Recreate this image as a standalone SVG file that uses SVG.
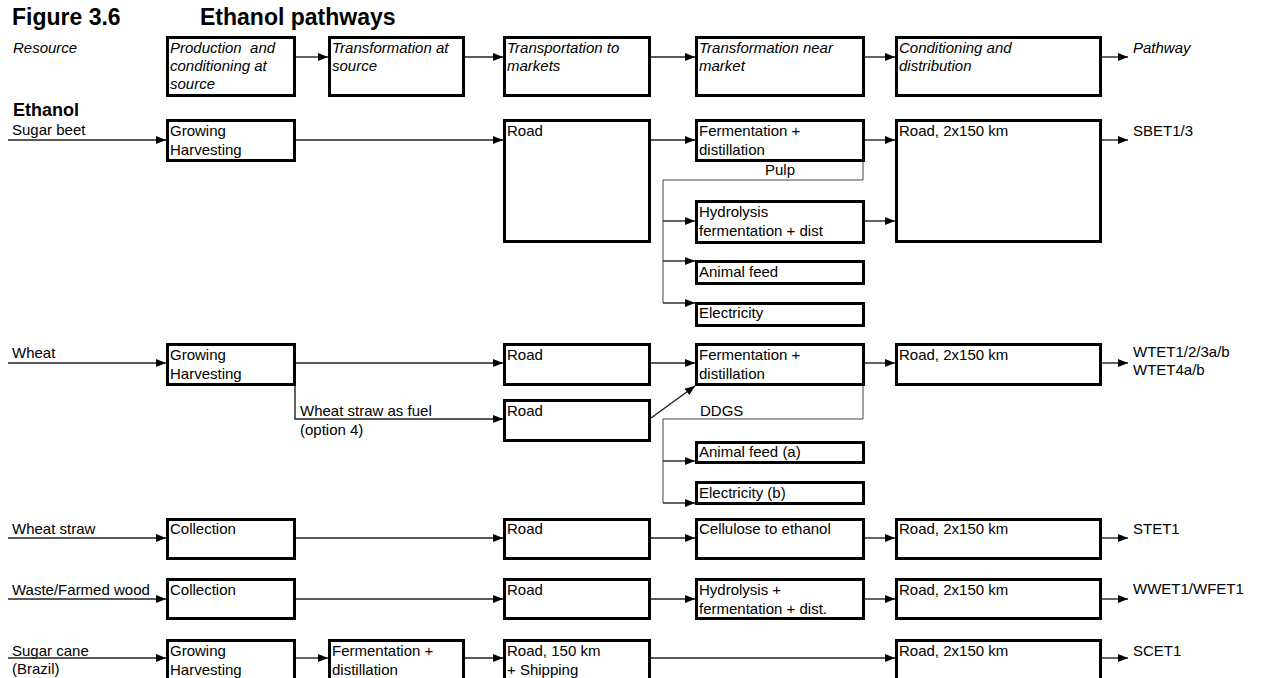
<svg xmlns="http://www.w3.org/2000/svg" width="1263" height="678" viewBox="0 0 1263 678">
  <defs>
    <marker id="arrow" viewBox="0 0 10 8" refX="10" refY="4" markerWidth="10" markerHeight="8" markerUnits="userSpaceOnUse" orient="auto">
      <path d="M0,0 L10,4 L0,8 z" fill="#000"/>
    </marker>
    <style>
      text { font-family: "Liberation Sans", Arial, sans-serif; font-size: 15px; fill: #000; }
      .title { font-size: 23px; font-weight: bold; }
      .section { font-size: 18px; font-weight: bold; }
      .it { font-style: italic; }
      .box { fill: #fff; stroke: #000; stroke-width: 3; }
      .flow { fill: none; stroke: #222; stroke-width: 1.4; }
      .arr { marker-end: url(#arrow); }
      .split { fill: none; stroke: #444; stroke-width: 1; }
    </style>
  </defs>

  <!-- Headings -->
  <g id="headings">
    <text class="title" x="12" y="25">Figure 3.6</text>
    <text class="title" x="200" y="25">Ethanol pathways</text>
    <text class="it" x="13" y="53">Resource</text>
    <text class="it" x="1133" y="53">Pathway</text>
    <text class="section" x="13" y="116">Ethanol</text>
  </g>

  <!-- Resource labels -->
  <g id="resources">
    <text x="12" y="135">Sugar beet</text>
    <text x="12" y="358">Wheat</text>
    <text x="12" y="534">Wheat straw</text>
    <text x="12" y="595">Waste/Farmed wood</text>
    <text x="12" y="656">Sugar cane</text>
    <text x="12" y="674">(Brazil)</text>
  </g>

  <!-- Connectors -->
  <g id="connectors">
    <!-- stage header chain -->
    <line class="flow arr" x1="296" y1="57" x2="328" y2="57"/>
    <line class="flow arr" x1="465" y1="57" x2="503" y2="57"/>
    <line class="flow arr" x1="651" y1="57" x2="695" y2="57"/>
    <line class="flow arr" x1="865" y1="57" x2="895" y2="57"/>
    <line class="flow arr" x1="1102" y1="57" x2="1128" y2="57"/>

    <!-- sugar beet -->
    <line class="flow arr" x1="8" y1="140" x2="166" y2="140"/>
    <line class="flow arr" x1="296" y1="140" x2="503" y2="140"/>
    <line class="flow arr" x1="651" y1="140" x2="695" y2="140"/>
    <line class="flow arr" x1="865" y1="140" x2="895" y2="140"/>
    <line class="flow arr" x1="1102" y1="140" x2="1128" y2="140"/>
    <polyline class="split" points="863,162 863,180 663,180 663,303"/>
    <line class="flow arr" x1="663" y1="221" x2="695" y2="221"/>
    <line class="flow arr" x1="663" y1="261" x2="695" y2="261"/>
    <line class="flow arr" x1="663" y1="303" x2="695" y2="303"/>
    <line class="flow arr" x1="865" y1="221" x2="895" y2="221"/>

    <!-- wheat -->
    <line class="flow arr" x1="8" y1="363" x2="166" y2="363"/>
    <line class="flow arr" x1="296" y1="363" x2="503" y2="363"/>
    <line class="flow arr" x1="651" y1="363" x2="695" y2="363"/>
    <line class="flow arr" x1="865" y1="363" x2="895" y2="363"/>
    <line class="flow arr" x1="1102" y1="363" x2="1128" y2="363"/>
    <polyline class="flow arr" points="295,386 295,419 503,419"/>
    <line class="flow arr" x1="651" y1="418" x2="695" y2="386"/>
    <polyline class="split" points="863,386 863,419 663,419 663,503"/>
    <line class="flow arr" x1="663" y1="461" x2="695" y2="461"/>
    <line class="flow arr" x1="663" y1="503" x2="695" y2="503"/>

    <!-- wheat straw -->
    <line class="flow arr" x1="8" y1="538" x2="166" y2="538"/>
    <line class="flow arr" x1="296" y1="538" x2="503" y2="538"/>
    <line class="flow arr" x1="651" y1="538" x2="695" y2="538"/>
    <line class="flow arr" x1="865" y1="538" x2="895" y2="538"/>
    <line class="flow arr" x1="1102" y1="538" x2="1128" y2="538"/>

    <!-- waste / farmed wood -->
    <line class="flow arr" x1="8" y1="599" x2="166" y2="599"/>
    <line class="flow arr" x1="296" y1="599" x2="503" y2="599"/>
    <line class="flow arr" x1="651" y1="599" x2="695" y2="599"/>
    <line class="flow arr" x1="865" y1="599" x2="895" y2="599"/>
    <line class="flow arr" x1="1102" y1="599" x2="1128" y2="599"/>

    <!-- sugar cane -->
    <line class="flow arr" x1="8" y1="658" x2="166" y2="658"/>
    <line class="flow arr" x1="296" y1="658" x2="328" y2="658"/>
    <line class="flow arr" x1="465" y1="658" x2="503" y2="658"/>
    <line class="flow arr" x1="651" y1="658" x2="895" y2="658"/>
    <line class="flow arr" x1="1102" y1="658" x2="1128" y2="658"/>
  </g>

  <!-- Branch labels -->
  <g id="branch-labels">
    <text x="765" y="175">Pulp</text>
    <text x="300" y="416">Wheat straw as fuel</text>
    <text x="300" y="435">(option 4)</text>
    <text x="700" y="416">DDGS</text>
  </g>

  <!-- Stage headers -->
  <g id="stage-production">
    <rect class="box" x="167.5" y="37.5" width="127" height="58"/>
    <text class="it" x="170" y="53" xml:space="preserve">Production  and</text>
    <text class="it" x="170" y="71">conditioning at</text>
    <text class="it" x="170" y="89">source</text>
  </g>
  <g id="stage-transform-source">
    <rect class="box" x="329.5" y="37.5" width="134" height="58"/>
    <text class="it" x="332" y="53">Transformation at</text>
    <text class="it" x="332" y="71">source</text>
  </g>
  <g id="stage-transport">
    <rect class="box" x="504.5" y="37.5" width="145" height="58"/>
    <text class="it" x="507" y="53">Transportation to</text>
    <text class="it" x="507" y="71">markets</text>
  </g>
  <g id="stage-transform-market">
    <rect class="box" x="696.5" y="37.5" width="167" height="58"/>
    <text class="it" x="699" y="53">Transformation near</text>
    <text class="it" x="699" y="71">market</text>
  </g>
  <g id="stage-distribution">
    <rect class="box" x="896.5" y="37.5" width="204" height="58"/>
    <text class="it" x="899" y="53">Conditioning and</text>
    <text class="it" x="899" y="71">distribution</text>
  </g>

  <!-- Sugar beet pathway -->
  <g id="sb-growing">
    <rect class="box" x="167.5" y="120.5" width="127" height="40"/>
    <text x="170" y="136">Growing</text>
    <text x="170" y="155">Harvesting</text>
  </g>
  <g id="sb-road">
    <rect class="box" x="504.5" y="120.5" width="145" height="121"/>
    <text x="507" y="136">Road</text>
  </g>
  <g id="sb-fermentation">
    <rect class="box" x="696.5" y="120.5" width="167" height="40"/>
    <text x="699" y="136">Fermentation +</text>
    <text x="699" y="155">distillation</text>
  </g>
  <g id="sb-hydrolysis">
    <rect class="box" x="696.5" y="201.5" width="167" height="41"/>
    <text x="699" y="217">Hydrolysis</text>
    <text x="699" y="236">fermentation + dist</text>
  </g>
  <g id="sb-animal-feed">
    <rect class="box" x="696.5" y="261.5" width="167" height="22"/>
    <text x="699" y="277">Animal feed</text>
  </g>
  <g id="sb-electricity">
    <rect class="box" x="696.5" y="303.5" width="167" height="22"/>
    <text x="699" y="318">Electricity</text>
  </g>
  <g id="sb-distribution">
    <rect class="box" x="896.5" y="120.5" width="204" height="121"/>
    <text x="899" y="136">Road, 2x150 km</text>
  </g>
  <g id="sb-pathway">
    <text x="1133" y="136">SBET1/3</text>
  </g>

  <!-- Wheat pathway -->
  <g id="wt-growing">
    <rect class="box" x="167.5" y="344.5" width="127" height="40"/>
    <text x="170" y="360">Growing</text>
    <text x="170" y="379">Harvesting</text>
  </g>
  <g id="wt-road">
    <rect class="box" x="504.5" y="344.5" width="145" height="40"/>
    <text x="507" y="360">Road</text>
  </g>
  <g id="wt-straw-road">
    <rect class="box" x="504.5" y="400.5" width="145" height="40"/>
    <text x="507" y="416">Road</text>
  </g>
  <g id="wt-fermentation">
    <rect class="box" x="696.5" y="344.5" width="167" height="40"/>
    <text x="699" y="360">Fermentation +</text>
    <text x="699" y="379">distillation</text>
  </g>
  <g id="wt-animal-feed">
    <rect class="box" x="696.5" y="442.5" width="167" height="20"/>
    <text x="699" y="457">Animal feed (a)</text>
  </g>
  <g id="wt-electricity">
    <rect class="box" x="696.5" y="482.5" width="167" height="21"/>
    <text x="699" y="498">Electricity (b)</text>
  </g>
  <g id="wt-distribution">
    <rect class="box" x="896.5" y="344.5" width="204" height="40"/>
    <text x="899" y="360">Road, 2x150 km</text>
  </g>
  <g id="wt-pathway">
    <text x="1133" y="357">WTET1/2/3a/b</text>
    <text x="1133" y="375">WTET4a/b</text>
  </g>

  <!-- Wheat straw pathway -->
  <g id="st-collection">
    <rect class="box" x="167.5" y="519.5" width="127" height="39"/>
    <text x="170" y="534">Collection</text>
  </g>
  <g id="st-road">
    <rect class="box" x="504.5" y="519.5" width="145" height="39"/>
    <text x="507" y="534">Road</text>
  </g>
  <g id="st-cellulose">
    <rect class="box" x="696.5" y="519.5" width="167" height="39"/>
    <text x="699" y="534">Cellulose to ethanol</text>
  </g>
  <g id="st-distribution">
    <rect class="box" x="896.5" y="519.5" width="204" height="39"/>
    <text x="899" y="534">Road, 2x150 km</text>
  </g>
  <g id="st-pathway">
    <text x="1133" y="534">STET1</text>
  </g>

  <!-- Waste / farmed wood pathway -->
  <g id="ww-collection">
    <rect class="box" x="167.5" y="579.5" width="127" height="39"/>
    <text x="170" y="595">Collection</text>
  </g>
  <g id="ww-road">
    <rect class="box" x="504.5" y="579.5" width="145" height="39"/>
    <text x="507" y="595">Road</text>
  </g>
  <g id="ww-hydrolysis">
    <rect class="box" x="696.5" y="579.5" width="167" height="39"/>
    <text x="699" y="595">Hydrolysis +</text>
    <text x="699" y="614">fermentation + dist.</text>
  </g>
  <g id="ww-distribution">
    <rect class="box" x="896.5" y="579.5" width="204" height="39"/>
    <text x="899" y="595">Road, 2x150 km</text>
  </g>
  <g id="ww-pathway">
    <text x="1133" y="594">WWET1/WFET1</text>
  </g>

  <!-- Sugar cane pathway -->
  <g id="sc-growing">
    <rect class="box" x="167.5" y="640.5" width="127" height="50"/>
    <text x="170" y="656">Growing</text>
    <text x="170" y="675">Harvesting</text>
  </g>
  <g id="sc-fermentation">
    <rect class="box" x="329.5" y="640.5" width="134" height="50"/>
    <text x="332" y="656">Fermentation +</text>
    <text x="332" y="675">distillation</text>
  </g>
  <g id="sc-shipping">
    <rect class="box" x="504.5" y="640.5" width="145" height="50"/>
    <text x="507" y="656">Road, 150 km</text>
    <text x="507" y="675">+ Shipping</text>
  </g>
  <g id="sc-distribution">
    <rect class="box" x="896.5" y="640.5" width="204" height="50"/>
    <text x="899" y="656">Road, 2x150 km</text>
  </g>
  <g id="sc-pathway">
    <text x="1133" y="656">SCET1</text>
  </g>
</svg>
